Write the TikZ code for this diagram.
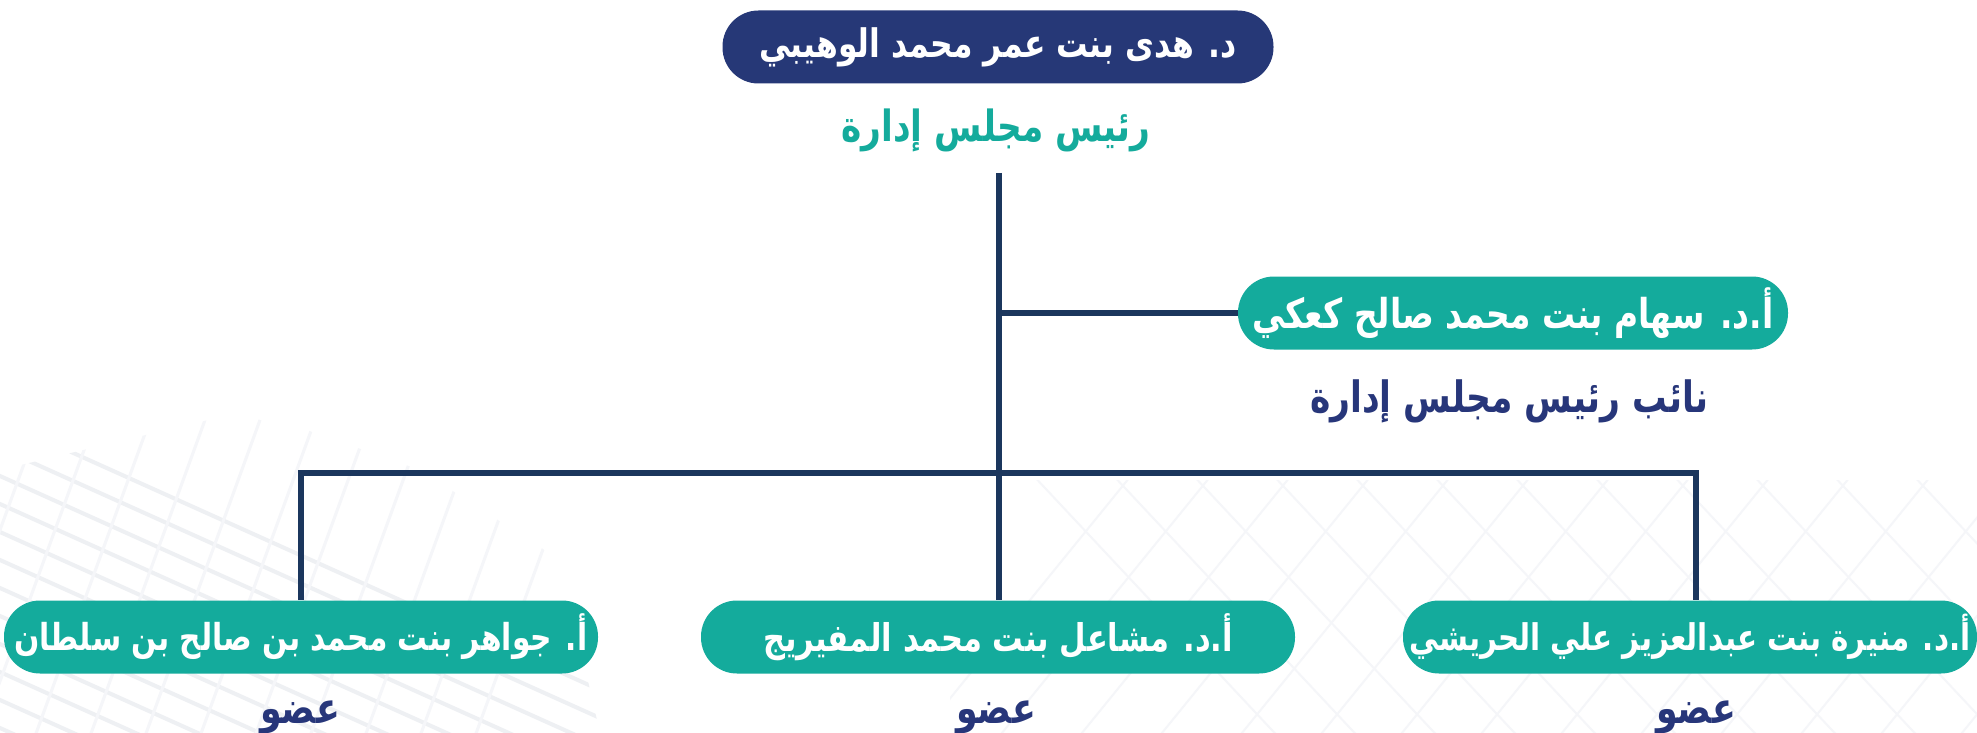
\documentclass[tikz,border=0pt]{standalone}
\usepackage{fontspec}
\TeXXeTstate=1
\newfontfamily\arabicfont[Script=Arabic]{DejaVu Sans}
\definecolor{navybox}{RGB}{38,56,119}
\definecolor{tealbox}{RGB}{20,171,156}
\definecolor{linenavy}{RGB}{27,54,93}
\definecolor{textnavy}{RGB}{39,54,122}
\definecolor{bgline}{RGB}{238,240,243}
\definecolor{bgline2}{RGB}{245,246,249}
\tikzset{
  pill/.style={rounded corners=18pt, minimum height=36.5pt, inner sep=0pt, text=white, font=\arabicfont\bfseries\fontsize{17}{20}\selectfont},
  navypill/.style={pill, fill=navybox},
  tealpill/.style={pill, fill=tealbox},
  role/.style={inner sep=0pt, font=\arabicfont\bfseries\fontsize{16}{19}\selectfont},
  conn/.style={draw=linenavy, line width=3pt},
}
\newcommand{\fitbox}[3]{\resizebox{#1}{!}{\scalebox{1}[#2]{#3}}}
\begin{document}
\begin{tikzpicture}[x=0.5pt,y=-0.5pt]
\useasboundingbox (0,0) rectangle (1977,733);
\clip (0,0) rectangle (1977,733);
\fill[white] (0,0) rectangle (1977,733);
% faint background architecture
\begin{scope}
  \clip (0,470) -- (250,410) -- (420,470) -- (560,560) -- (600,733) -- (0,733) -- cycle;
  \foreach \k in {0,...,26} {
    \draw[bgline, line width=2pt] (-200,330+\k*28) -- ++(800,360);
  }
  \foreach \k in {0,...,10} {
    \draw[bgline2, line width=1.5pt] (40+\k*55,420) -- ++(-120,330);
  }
\end{scope}
\begin{scope}
  \clip (950,480) rectangle (1977,733);
  \foreach \k in {0,...,14} {
    \draw[bgline2, line width=1pt] (900+\k*80,760) -- ++(260,-320);
    \draw[bgline2, line width=1pt] (1000+\k*80,440) -- ++(300,320);
  }
\end{scope}
% nodes
\node[navypill, minimum width=275.5pt] (chair) at (998,47) {\fitbox{239pt}{1.25}{\beginR د. هدى بنت عمر محمد الوهيبي\endR}};
\node[role, text=tealbox] (chairrole) at (996,130) {\fitbox{154.5pt}{1.25}{\beginR رئيس مجلس إدارة\endR}};
\node[tealpill, minimum width=275pt] (vice) at (1513,313) {\fitbox{260.5pt}{1.25}{\beginR أ.د. سهام بنت محمد صالح كعكي\endR}};
\node[role, text=textnavy] (vicerole) at (1509,401) {\fitbox{199pt}{1.25}{\beginR نائب رئيس مجلس إدارة\endR}};
\node[tealpill, minimum width=297pt] (left) at (301,637) {\fitbox{286.5pt}{1.25}{\beginR أ. جواهر بنت محمد بن صالح بن سلطان\endR}};
\node[tealpill, minimum width=297pt] (mid) at (998,637) {\fitbox{235pt}{1.25}{\beginR أ.د. مشاعل بنت محمد المفيريج\endR}};
\node[tealpill, minimum width=287pt] (right) at (1690,637) {\fitbox{280.5pt}{1.25}{\beginR أ.د. منيرة بنت عبدالعزيز علي الحريشي\endR}};
\node[role, text=textnavy] (leftrole) at (300,717) {\fitbox{40pt}{1.25}{\beginR عضو\endR}};
\node[role, text=textnavy] (midrole) at (996,717) {\fitbox{40pt}{1.25}{\beginR عضو\endR}};
\node[role, text=textnavy] (rightrole) at (1696,717) {\fitbox{40pt}{1.25}{\beginR عضو\endR}};
% connectors
\coordinate (trunktop) at (999,173);
\coordinate (bus) at (999,473);
\coordinate (rightdrop) at (1696,473);
\draw[conn] (trunktop) -- (mid.north -| trunktop);
\draw[conn] (trunktop |- vice.west) -- (vice.west);
\draw[conn] (left.north) -- (left.north |- bus) -- (rightdrop) -- (rightdrop |- right.north);
\end{tikzpicture}
\end{document}
